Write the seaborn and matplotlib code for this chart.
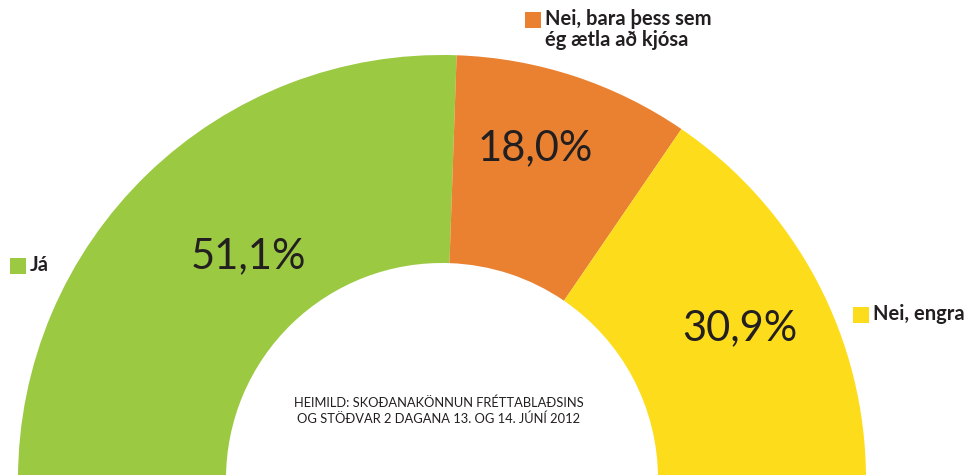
import seaborn as sns
import matplotlib.pyplot as plt

# survey result (half donut)
categories = ['Já', 'Nei, bara þess sem\nég ætla að kjósa', 'Nei, engra']
shares = [51.1, 18.0, 30.9]
pct_labels = ['51,1%', '18,0%', '30,9%']
colors = ['#9bc942', '#e98131', '#fddd1b']
source = 'HEIMILD: SKOÐANAKÖNNUN FRÉTTABLAÐSINS\nOG STÖÐVAR 2 DAGANA 13. OG 14. JÚNÍ 2012'

sns.set_theme(style='white')
plt.rcParams['font.family'] = ['Lato', 'DejaVu Sans']
dark = '#231f20'

fig = plt.figure(figsize=(9.64, 4.75), dpi=100)
ax = fig.add_axes([0, 0, 1, 1])

cx, cy, r_out, r_in = 442, -4, 424, 216
# the hidden bottom half makes the pie a semicircle
wedges, _ = ax.pie(shares + [sum(shares)], colors=colors + ['none'],
                   startangle=180, counterclock=False, center=(cx, cy),
                   radius=r_out, wedgeprops=dict(width=r_out - r_in, linewidth=0))
ax.set_xlim(0, 964)
ax.set_ylim(0, 475)
ax.set_aspect('equal')
ax.axis('off')

# percentage labels
pct_pos = [(248, 219), (535, 327), (740, 147)]
for (x, y), t in zip(pct_pos, pct_labels):
    ax.text(x, y, t, ha='center', va='center', fontsize=30, color=dark)

# legend-style labels next to the arcs
legend_pos = [(12, 209), (527, 455), (855, 160)]
for (x, y), c, lab in zip(legend_pos, colors, categories):
    ax.scatter([x + 6], [y], marker='s', s=120, color=c, linewidths=0)
    if '\n' in lab:
        ax.text(x + 18, y + 11, lab, ha='left', va='top', fontsize=14.5,
                fontweight='bold', color=dark, linespacing=1.05)
    else:
        ax.text(x + 18, y + 1, lab, ha='left', va='center', fontsize=14.5,
                fontweight='bold', color=dark)

ax.text(439, 64, source, ha='center', va='center', fontsize=9.3, color=dark,
        linespacing=1.3)

fig.savefig('out.png', dpi=100)
